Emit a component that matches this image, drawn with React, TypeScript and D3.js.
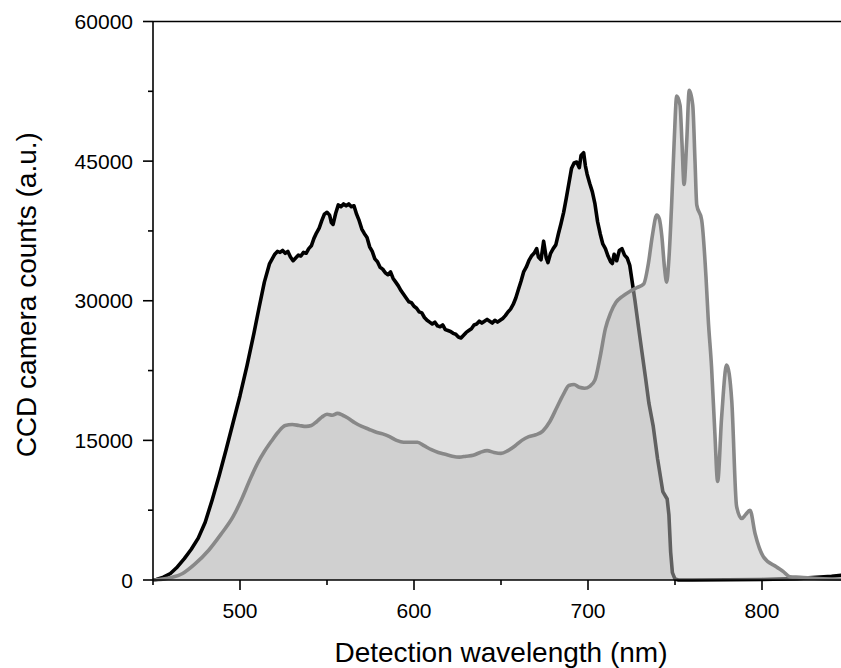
import React from "react";
import * as d3 from "d3";

// Series A (black outline)
const wavelengthA = [450, 452, 456, 460, 464, 468, 472, 476, 480, 484, 488, 492, 496, 500, 504, 508, 511, 514, 517, 520, 521.5, 523, 524.5, 526, 527.5, 529, 530.5, 532, 533.5, 535, 536.5, 538, 539.5, 541, 542.5, 544, 545.5, 547, 548.5, 550, 551.5, 552.5, 553.5, 555, 556.5, 558, 559.5, 561, 562.5, 564, 565.5, 567, 568.5, 570, 571.5, 573, 574.5, 576, 577.5, 579, 580.5, 582, 583.5, 585, 586.5, 588, 589.5, 591, 592.5, 594, 595.5, 597, 598.5, 600, 601.5, 603, 604.5, 606, 607.5, 609, 610.5, 612, 613.5, 615, 616.5, 618, 619.5, 621, 622.5, 624, 625.5, 627, 628.5, 630, 631.5, 633, 634.5, 636, 637.5, 639, 640.5, 642, 643.5, 645, 646.5, 648, 649.5, 651, 652.5, 654, 655.5, 657, 658.5, 660, 661.5, 663, 664.5, 666, 667.5, 669, 670.5, 671.5, 673, 674.5, 676, 677, 678.5, 680, 681.5, 683, 684.5, 686, 687.5, 689, 690.5, 692, 693.5, 695, 696, 697.5, 698.5, 699.5, 701, 702.5, 704, 705.5, 707, 708.5, 710, 711.5, 713, 714, 715, 716.5, 718, 719.5, 721, 722.5, 724, 725.5, 727, 729, 731, 733, 735, 737.5, 740, 743, 745.5, 746.5, 747.5, 748.5, 750, 752, 760, 780, 800, 820, 840, 850];
const countsA = [0, 50, 300, 700, 1400, 2300, 3300, 4500, 6200, 8600, 11200, 14000, 16900, 19800, 23000, 26500, 29300, 32000, 34000, 35000, 35300, 35200, 35400, 35100, 35300, 34700, 34300, 34600, 34900, 34800, 35200, 35100, 35600, 35900, 36700, 37300, 37800, 38600, 39300, 39500, 39200, 38400, 38200, 39400, 40300, 40100, 40400, 40200, 40400, 40100, 40200, 39300, 38600, 37700, 37200, 36800, 35800, 35300, 34500, 34200, 33600, 33400, 33000, 32800, 33100, 32400, 32000, 31600, 31100, 30700, 30300, 29900, 29800, 29400, 29200, 28800, 28700, 28200, 27900, 27700, 27500, 27700, 27300, 27200, 27400, 26900, 26800, 26700, 26500, 26400, 26100, 26000, 26300, 26600, 26800, 27000, 27400, 27500, 27800, 27600, 27800, 28000, 27800, 27600, 27900, 27700, 27900, 28100, 28400, 28800, 29100, 29600, 30300, 31200, 32100, 33100, 33600, 34300, 34800, 35100, 35600, 34700, 34400, 36400, 34600, 34100, 35100, 35600, 36000, 37200, 38300, 39500, 41000, 42600, 44200, 44800, 44900, 44300, 45600, 45900, 44500, 43600, 42600, 41700, 40400, 38500, 37200, 36100, 35600, 34800, 34200, 34000, 35000, 34300, 35400, 35600, 34900, 34600, 33800, 31900, 30000, 27200, 24500, 21800, 19000, 16500, 13000, 9500, 8700, 7000, 3000, 800, 100, 0, 0, 30, 60, 150, 400, 600];

// Series B (gray outline)
const wavelengthB = [450, 452, 460, 467, 474, 482, 489, 496, 501, 506, 510, 514, 518, 522, 526, 530, 534, 538, 541, 544, 547, 550, 553, 556, 559, 562, 566, 570, 574, 578, 582, 586, 590, 594, 598, 602, 606, 610, 614, 618, 622, 626, 630, 634, 638, 642, 646, 650, 654, 658, 662, 666, 670, 674, 678, 682, 686, 689, 692, 695, 698, 701, 704, 707, 710, 713, 716, 720, 724, 728, 732, 734.7, 737, 739.5, 741, 742.4, 744, 745.2, 746.5, 748.1, 749.5, 751, 752.9, 754, 755.2, 756.7, 758.2, 760.2, 761.5, 762.5, 765.3, 767.8, 769.1, 771, 772.9, 774.5, 776.8, 779.7, 782.6, 785.4, 788.3, 790.5, 793.1, 796, 800.8, 808.4, 812.3, 816, 822, 830, 840, 850];
const countsB = [0, 30, 250, 700, 1700, 3200, 4900, 6800, 8700, 10900, 12500, 13800, 14900, 15900, 16600, 16700, 16600, 16500, 16600, 17000, 17500, 17800, 17700, 17900, 17700, 17400, 16900, 16500, 16200, 15900, 15700, 15400, 15000, 14800, 14800, 14800, 14400, 14000, 13700, 13500, 13300, 13200, 13300, 13400, 13700, 13900, 13700, 13600, 13900, 14400, 15000, 15400, 15600, 16000, 17000, 18500, 20000, 20900, 21000, 20700, 20600, 20800, 21500, 24000, 27000, 28700, 29800, 30500, 31000, 31400, 31800, 34000, 37000, 39200, 38800, 37000, 33500, 32000, 34500, 40500, 47000, 52000, 51000, 47000, 42500, 47000, 52600, 51000, 45000, 40300, 38700, 32600, 28000, 22900, 15800, 10600, 17500, 23100, 19300, 7900, 6600, 7000, 7500, 5000, 2500, 1400, 900, 350, 300, 180, 100, 80];

const xTicks = [500, 600, 700, 800];
const xMinorTicks = [450, 550, 650, 750, 850];
const yTicks = [0, 15000, 30000, 45000, 60000];
const yMinorTicks = [7500, 22500, 37500, 52500];

const xTitle = "Detection wavelength (nm)";
const yTitle = "CCD camera counts (a.u.)";

export default function App() {
  const W = 841;
  const H = 668;
  const x = d3.scaleLinear().domain([450, 850]).range([153, 849]);
  const y = d3.scaleLinear().domain([0, 60000]).range([580, 21.5]);

  const ptsA: [number, number][] = wavelengthA.map((w, i) => [w, countsA[i]]);
  const ptsB: [number, number][] = wavelengthB.map((w, i) => [w, countsB[i]]);

  const areaA = d3
    .area<[number, number]>()
    .x((d) => x(d[0]))
    .y0(y(0))
    .y1((d) => y(d[1]))
    .curve(d3.curveLinear);
  const lineA = d3
    .line<[number, number]>()
    .x((d) => x(d[0]))
    .y((d) => y(d[1]))
    .curve(d3.curveLinear);
  const areaB = d3
    .area<[number, number]>()
    .x((d) => x(d[0]))
    .y0(y(0))
    .y1((d) => y(d[1]))
    .curve(d3.curveMonotoneX);
  const lineB = d3
    .line<[number, number]>()
    .x((d) => x(d[0]))
    .y((d) => y(d[1]))
    .curve(d3.curveMonotoneX);

  const font = "'Liberation Sans', Arial, Helvetica, sans-serif";
  const x0 = x.range()[0];
  const x1 = x.range()[1];
  const yb = y.range()[0];
  const yt = y.range()[1];

  return (
    <svg
      width={W}
      height={H}
      style={{ position: "absolute", left: 0, top: 0, background: "#fff" }}
      fontFamily={font}
    >
      <rect x={0} y={0} width={W} height={H} fill="#fff" />
      <path d={areaA(ptsA) || ""} fill="#e0e0e0" />
      <path d={lineA(ptsA) || ""} fill="none" stroke="#000" strokeWidth={3.6} strokeLinejoin="round" />
      <path d={areaB(ptsB) || ""} fill="#c0c0c0" fillOpacity={0.5} />
      <path d={lineB(ptsB) || ""} fill="none" stroke="#888888" strokeWidth={3.6} strokeLinejoin="round" />

      {/* frame */}
      <line x1={x0} x2={x0} y1={yt} y2={yb} stroke="#000" strokeWidth={1.6} />
      <line x1={x0} x2={x1} y1={yb} y2={yb} stroke="#000" strokeWidth={1.6} />
      <line x1={x0} x2={x1} y1={yt} y2={yt} stroke="#000" strokeWidth={1.6} />
      <line x1={x1} x2={x1} y1={yt} y2={yb} stroke="#000" strokeWidth={1.6} />

      {/* y ticks */}
      {yTicks.map((t) => (
        <g key={"y" + t}>
          <line x1={x0 - 10} x2={x0} y1={y(t)} y2={y(t)} stroke="#000" strokeWidth={1.6} />
          <text x={x0 - 20} y={y(t)} dy="0.36em" textAnchor="end" fontSize={21} fill="#000">
            {t}
          </text>
        </g>
      ))}
      {yMinorTicks.map((t) => (
        <line key={"ym" + t} x1={x0 - 5} x2={x0} y1={y(t)} y2={y(t)} stroke="#000" strokeWidth={1.6} />
      ))}

      {/* x ticks */}
      {xTicks.map((t) => (
        <g key={"x" + t}>
          <line x1={x(t)} x2={x(t)} y1={yb} y2={yb + 10} stroke="#000" strokeWidth={1.6} />
          <text x={x(t)} y={yb + 38} textAnchor="middle" fontSize={21} fill="#000">
            {t}
          </text>
        </g>
      ))}
      {xMinorTicks.map((t) => (
        <line key={"xm" + t} x1={x(t)} x2={x(t)} y1={yb} y2={yb + 5} stroke="#000" strokeWidth={1.6} />
      ))}

      <text x={(x0 + x1) / 2} y={662} textAnchor="middle" fontSize={28} fill="#000">
        {xTitle}
      </text>
      <text
        transform={`translate(36, ${(yt + yb) / 2 - 6}) rotate(-90)`}
        textAnchor="middle"
        fontSize={28}
        fill="#000"
      >
        {yTitle}
      </text>
    </svg>
  );
}
